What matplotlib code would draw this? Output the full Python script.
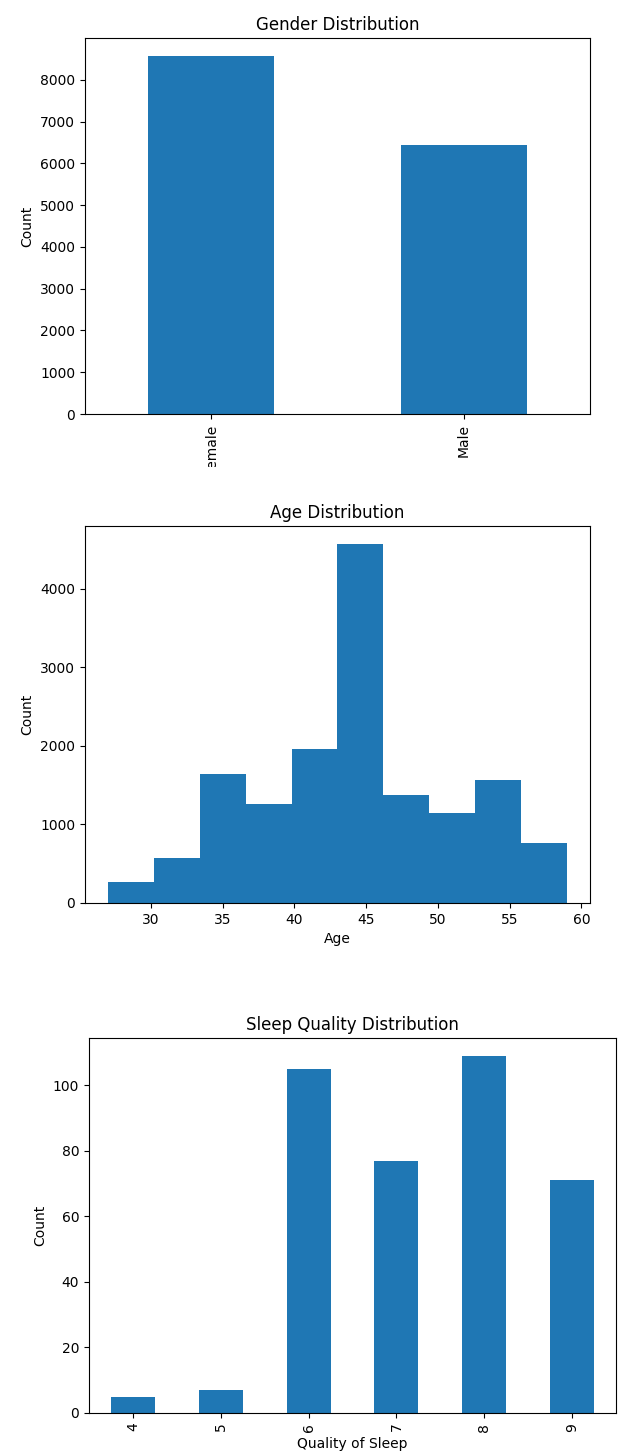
import numpy as np
import matplotlib
matplotlib.use("Agg")
import matplotlib.pyplot as plt
from matplotlib.patches import Rectangle
from matplotlib.ticker import MultipleLocator

# gender counts
genders = ["Female", "Male"]
gender_counts = [8570, 6440]

# age histogram (10 bins, 27 -> 59)
age_edges = [27, 30.2, 33.4, 36.6, 39.8, 43.0, 46.2, 49.4, 52.6, 55.8, 59]
age_counts = [265, 570, 1638, 1255, 1955, 4570, 1372, 1143, 1560, 760]

# sleep quality
quality = ["4", "5", "6", "7", "8", "9"]
quality_counts = [5, 7, 105, 77, 109, 71]

W, H = 622, 1453
fig = plt.figure(figsize=(W / 100, H / 100), dpi=100)

def box(l, t, r, b):
    return [l / W, (H - b) / H, (r - l) / W, (b - t) / H]

ax1 = fig.add_axes(box(85, 38, 590, 414))
ax1.bar(range(len(genders)), gender_counts, width=0.5, color="#1f77b4")
ax1.set_xticks(range(len(genders)))
ax1.set_xticklabels(genders, rotation=90)
ax1.set_xlim(-0.5, 1.5)
ax1.yaxis.set_major_locator(MultipleLocator(1000))
ax1.set_ylim(0, max(gender_counts) * 1.05)
ax1.set_ylabel("Count")
ax1.set_title("Gender Distribution")

ax2 = fig.add_axes(box(85, 526, 590, 903))
ax2.bar(age_edges[:-1], age_counts, width=np.diff(age_edges), align="edge", color="#1f77b4")
ax2.set_xlabel("Age")
ax2.set_ylabel("Count")
ax2.set_title("Age Distribution")

ax3 = fig.add_axes(box(89, 1038, 616, 1413))
ax3.bar(range(len(quality)), quality_counts, width=0.5, color="#1f77b4")
ax3.set_xticks(range(len(quality)))
ax3.set_xticklabels(quality, rotation=90)
ax3.set_xlim(-0.5, len(quality) - 0.5)
ax3.set_xlabel("Quality of Sleep")
ax3.set_ylabel("Count")
ax3.set_title("Sleep Quality Distribution")

# first figure was cropped in the screenshot
fig.patches.append(Rectangle((0, (H - 495) / H), 1, 28 / H, transform=fig.transFigure,
                             facecolor="white", edgecolor="none", zorder=10))

fig.savefig("out.png", dpi=100)
